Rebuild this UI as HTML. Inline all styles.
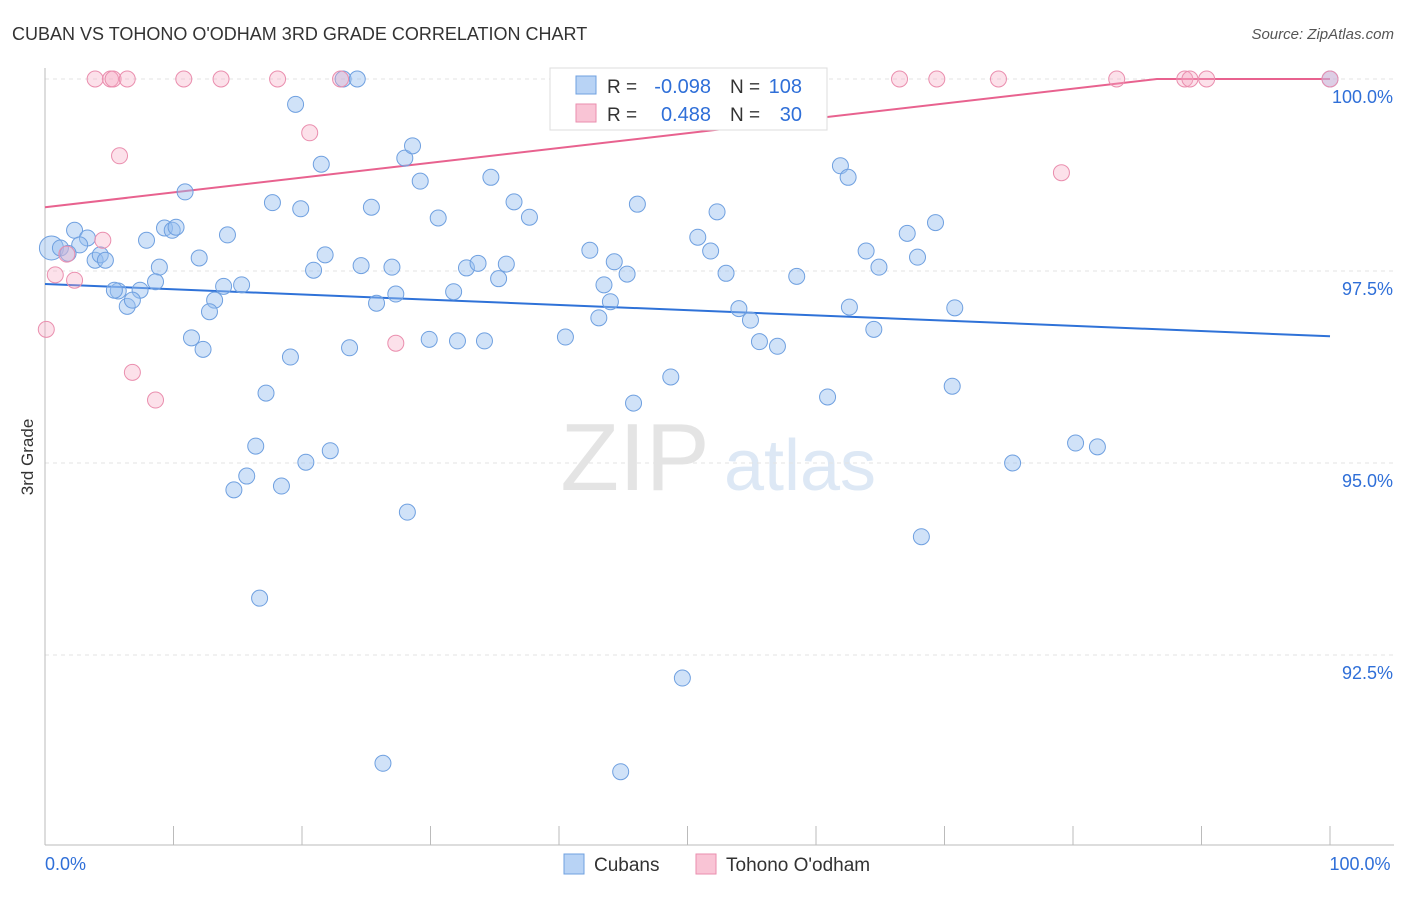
<!DOCTYPE html>
<html><head><meta charset="utf-8"><style>
body{margin:0;background:#fff;font-family:"Liberation Sans",sans-serif;}
svg text{font-family:"Liberation Sans",sans-serif;}
</style></head><body>
<svg id="chart" width="1406" height="892" viewBox="0 0 1406 892" xmlns="http://www.w3.org/2000/svg">
<text x="12" y="40" font-size="18" fill="#333">CUBAN VS TOHONO O'ODHAM 3RD GRADE CORRELATION CHART</text>
<text x="1394" y="39" font-size="15" fill="#555" text-anchor="end" font-style="italic">Source: ZipAtlas.com</text>
<text x="33" y="457" font-size="17" fill="#333" text-anchor="middle" transform="rotate(-90 33 457)">3rd Grade</text>
<g><text x="635" y="490" font-size="96" fill="#e4e4e4" text-anchor="middle" font-family="Liberation Serif">ZIP</text><text x="800" y="490" font-size="72" fill="#dde8f5" text-anchor="middle">atlas</text></g>
<g id="grid"></g><g id="axes"></g><g id="trends"></g><g id="points"></g>
<g>
<rect x="550" y="68" width="277" height="62" fill="#fff" stroke="#ddd"/>
<rect x="576" y="76" width="20" height="18" fill="#b8d3f5" stroke="#6fa0e0"/>
<rect x="576" y="104" width="20" height="18" fill="#f9c4d5" stroke="#ea8eae"/>
<text x="607" y="93" font-size="19" fill="#333">R =</text>
<text x="711" y="93" font-size="20" fill="#2f6fd8" text-anchor="end">-0.098</text>
<text x="730" y="93" font-size="19" fill="#333">N =</text>
<text x="802" y="93" font-size="20" fill="#2f6fd8" text-anchor="end">108</text>
<text x="607" y="121" font-size="19" fill="#333">R =</text>
<text x="711" y="121" font-size="20" fill="#2f6fd8" text-anchor="end">0.488</text>
<text x="730" y="121" font-size="19" fill="#333">N =</text>
<text x="802" y="121" font-size="20" fill="#2f6fd8" text-anchor="end">30</text>
</g>
<g>
<rect x="564" y="854" width="20" height="20" fill="#b8d3f5" stroke="#6fa0e0"/>
<text x="594" y="871" font-size="19" fill="#333">Cubans</text>
<rect x="696" y="854" width="20" height="20" fill="#f9c4d5" stroke="#ea8eae"/>
<text x="726" y="871" font-size="19" fill="#333">Tohono O'odham</text>
</g>
</svg>
<script>
const blueX=[0.5,1.2,2.3,3.3,2.7,1.8,3.9,4.3,4.7,7.9,9.3,9.9,10.2,10.9,12.0,14.2,8.9,8.6,7.4,5.7,5.4,6.4,6.8,13.2,12.8,13.9,15.3,11.4,12.3,19.1,17.2,19.5,17.7,19.9,21.5,21.8,20.9,16.4,15.7,14.7,18.4,20.3,22.2,16.7,23.7,24.6,25.8,25.4,23.2,24.3,27.0,27.3,28.0,28.6,29.2,30.6,28.2,26.3,29.9,32.1,34.2,31.8,32.8,33.7,34.7,35.3,35.9,36.5,37.7,40.5,42.4,44.3,45.3,43.5,44.0,43.1,46.1,45.8,48.7,44.8,49.6,50.8,51.8,52.3,53.0,54.0,54.9,55.6,57.0,58.5,60.9,61.9,62.5,62.6,63.9,64.5,64.9,67.1,67.9,69.3,70.8,70.6,68.2,75.3,80.2,81.9,100];
const blueY=[97.80,97.80,98.03,97.93,97.84,97.73,97.64,97.71,97.64,97.90,98.06,98.03,98.07,98.53,97.67,97.97,97.55,97.36,97.25,97.24,97.25,97.04,97.12,97.12,96.97,97.30,97.32,96.63,96.48,96.38,95.91,99.67,98.39,98.31,98.89,97.71,97.51,95.22,94.83,94.65,94.70,95.01,95.16,93.24,96.50,97.57,97.08,98.33,100,100,97.55,97.20,98.97,99.13,98.67,98.19,94.36,91.09,96.61,96.59,96.59,97.23,97.54,97.60,98.72,97.40,97.59,98.40,98.20,96.64,97.77,97.62,97.46,97.32,97.10,96.89,98.37,95.78,96.12,90.98,92.20,97.94,97.76,98.27,97.47,97.01,96.86,96.58,96.52,97.43,95.86,98.87,98.72,97.03,97.76,96.74,97.55,97.99,97.68,98.13,97.02,96.00,94.04,95.00,95.26,95.21,100];
const pinkX=[3.9,5.1,5.3,6.4,10.8,13.7,18.1,23.0,47.5,66.5,69.4,74.2,83.4,88.7,89.1,90.4,100,20.6,5.8,79.1,4.5,1.7,0.8,2.3,0.1,27.3,6.8,8.6];
const pinkY=[100,100,100,100,100,100,100,100,100,100,100,100,100,100,100,100,100,99.30,99.00,98.78,97.90,97.72,97.45,97.38,96.74,96.56,96.18,95.82];
const blueTrend=[97.33,96.65];
const pinkTrend=[98.33,100.26];
const yTicks=[100,97.5,95,92.5];
const yTickLabels=["100.0%","97.5%","95.0%","92.5%"];
const xTickLabels=["0.0%","100.0%"];
const X0=45,X1=1330,YTOP=79,PPU=76.8;
const sx=v=>X0+(X1-X0)*v/100;
const sy=v=>YTOP+(100-v)*PPU;
const NS="http://www.w3.org/2000/svg";
function mk(tag,parent,attrs){const e=document.createElementNS(NS,tag);for(const k in attrs)e.setAttribute(k,attrs[k]);document.getElementById(parent).appendChild(e);return e;}
yTicks.forEach((t,i)=>{
 const l=mk('line','grid',{x1:X0,x2:1394,y1:sy(t),y2:sy(t),stroke:'#e3e3e3','stroke-dasharray':'4,4'});
 
 
 const tx=mk('text','grid',{x:1393,y:sy(t)+24,'font-size':18,fill:'#2f6fd8','text-anchor':'end'});
 tx.textContent=yTickLabels[i];
 
 
});
const ax=mk('line','axes',{x1:X0,x2:X0,y1:68,y2:845,stroke:'#bbb'});


const bx=mk('line','axes',{x1:X0,x2:1394,y1:845,y2:845,stroke:'#bbb'});


for(let i=0;i<=10;i++){const t=mk('line','axes',{x1:sx(i*10),x2:sx(i*10),y1:826,y2:845,stroke:'#bbb'});
 
 }
[[0,'start',45],[100,'middle',1360]].forEach((d,i)=>{const t=mk('text','axes',{x:d[2],y:870,'font-size':18,fill:'#2f6fd8','text-anchor':d[1]});t.textContent=xTickLabels[i];
 
 });
const bl=mk('line','trends',{x1:sx(0),y1:sy(blueTrend[0]),x2:sx(100),y2:sy(blueTrend[1]),stroke:'#2f72d8','stroke-width':2});


const xc=100*(100-pinkTrend[0])/(pinkTrend[1]-pinkTrend[0]);
const pl=mk('polyline','trends',{points:`${sx(0)},${sy(pinkTrend[0])} ${sx(xc)},${sy(100)} ${sx(100)},${sy(100)}`,fill:'none',stroke:'#e8628f','stroke-width':2});


blueX.forEach((x,i)=>{const c=mk('circle','points',{cx:sx(x),cy:sy(blueY[i]),r:i===0?12:8,fill:'rgba(150,190,240,0.45)',stroke:'#6fa0e0','stroke-width':1});
 
 });
pinkX.forEach((x,i)=>{const c=mk('circle','points',{cx:sx(x),cy:sy(pinkY[i]),r:8,fill:'rgba(245,170,195,0.35)',stroke:'#ea8eae','stroke-width':1});
 
 });
</script>
</body></html>
